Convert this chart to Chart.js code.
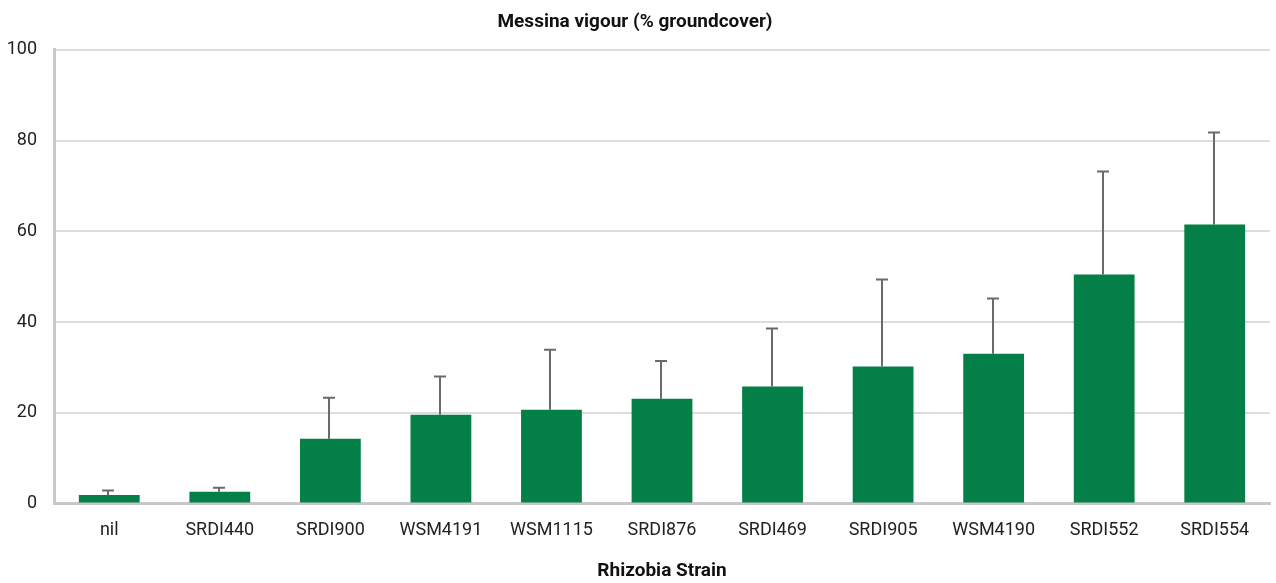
<!DOCTYPE html>
<html>
<head>
<meta charset="utf-8">
<script src="https://cdn.jsdelivr.net/npm/chart.js@4.4.0/dist/chart.umd.min.js"></script>
<style>
html,body{margin:0;padding:0;background:#fff;}
#wrap{width:1276px;height:583px;position:relative;}
</style>
</head>
<body>
<div id="wrap"><canvas id="c" width="1276" height="583"></canvas></div>
<script>
const categories = ["nil","SRDI440","SRDI900","WSM4191","WSM1115","SRDI876","SRDI469","SRDI905","WSM4190","SRDI552","SRDI554"];
const meanCover = [1.9, 2.6, 14.3, 19.6, 20.7, 23.1, 25.8, 30.2, 33.0, 50.5, 61.5];
const errorUp = [1.0, 0.9, 9.0, 8.4, 13.2, 8.3, 12.8, 19.2, 12.2, 22.7, 20.3];
const yTicks = [0, 20, 40, 60, 80, 100];

const errorBars = {
  id: 'errorBars',
  afterDatasetsDraw(chart) {
    const ctx = chart.ctx;
    const meta = chart.getDatasetMeta(0);
    const ys = chart.scales.y;
    ctx.save();
    ctx.strokeStyle = '#6a6a6a';
    ctx.lineWidth = 2;
    meta.data.forEach((bar, i) => {
      const x = Math.round(bar.x) - 1;
      const y0 = ys.getPixelForValue(meanCover[i]);
      const y1 = ys.getPixelForValue(meanCover[i] + errorUp[i]);
      ctx.beginPath();
      ctx.moveTo(x, y0);
      ctx.lineTo(x, y1);
      ctx.moveTo(x - 6, y1);
      ctx.lineTo(x + 6, y1);
      ctx.stroke();
    });
    ctx.restore();
  }
};

new Chart(document.getElementById('c'), {
  type: 'bar',
  data: {
    labels: categories,
    datasets: [{
      data: meanCover,
      backgroundColor: '#037f47',
      borderWidth: 0,
      barPercentage: 0.55,
      categoryPercentage: 1.0
    }]
  },
  options: {
    responsive: false,
    animation: false,
    devicePixelRatio: 1,
    layout: { padding: { left: 0, right: 6, top: 0, bottom: 0 } },
    plugins: {
      legend: { display: false },
      tooltip: { enabled: false },
      title: {
        display: true,
        text: 'Messina vigour (% groundcover)',
        color: '#111',
        font: { family: 'Roboto', size: 19, weight: 'bold' },
        padding: { top: 11, bottom: 16 }
      }
    },
    scales: {
      x: {
        grid: { display: false, drawTicks: false },
        border: { display: true, color: '#c8c8cc', width: 3 },
        ticks: {
          color: '#222',
          font: { family: 'Roboto', size: 18 },
          padding: 16,
          maxRotation: 0,
          autoSkip: false
        },
        title: {
          display: true,
          text: 'Rhizobia Strain',
          color: '#111',
          font: { family: 'Roboto', size: 19, weight: 'bold' },
          padding: { top: 3, bottom: 0 }
        }
      },
      y: {
        min: 0,
        max: 100,
        afterBuildTicks(scale) { scale.ticks = yTicks.map(v => ({ value: v })); },
        afterFit(scale) { scale.width = 54; },
        grid: { color: '#dcdcdc', lineWidth: 2, drawTicks: false },
        border: { display: true, color: '#c8c8cc', width: 3 },
        ticks: {
          color: '#222',
          font: { family: 'Roboto', size: 18 },
          padding: 17
        }
      }
    }
  },
  plugins: [errorBars]
});
</script>
</body>
</html>
